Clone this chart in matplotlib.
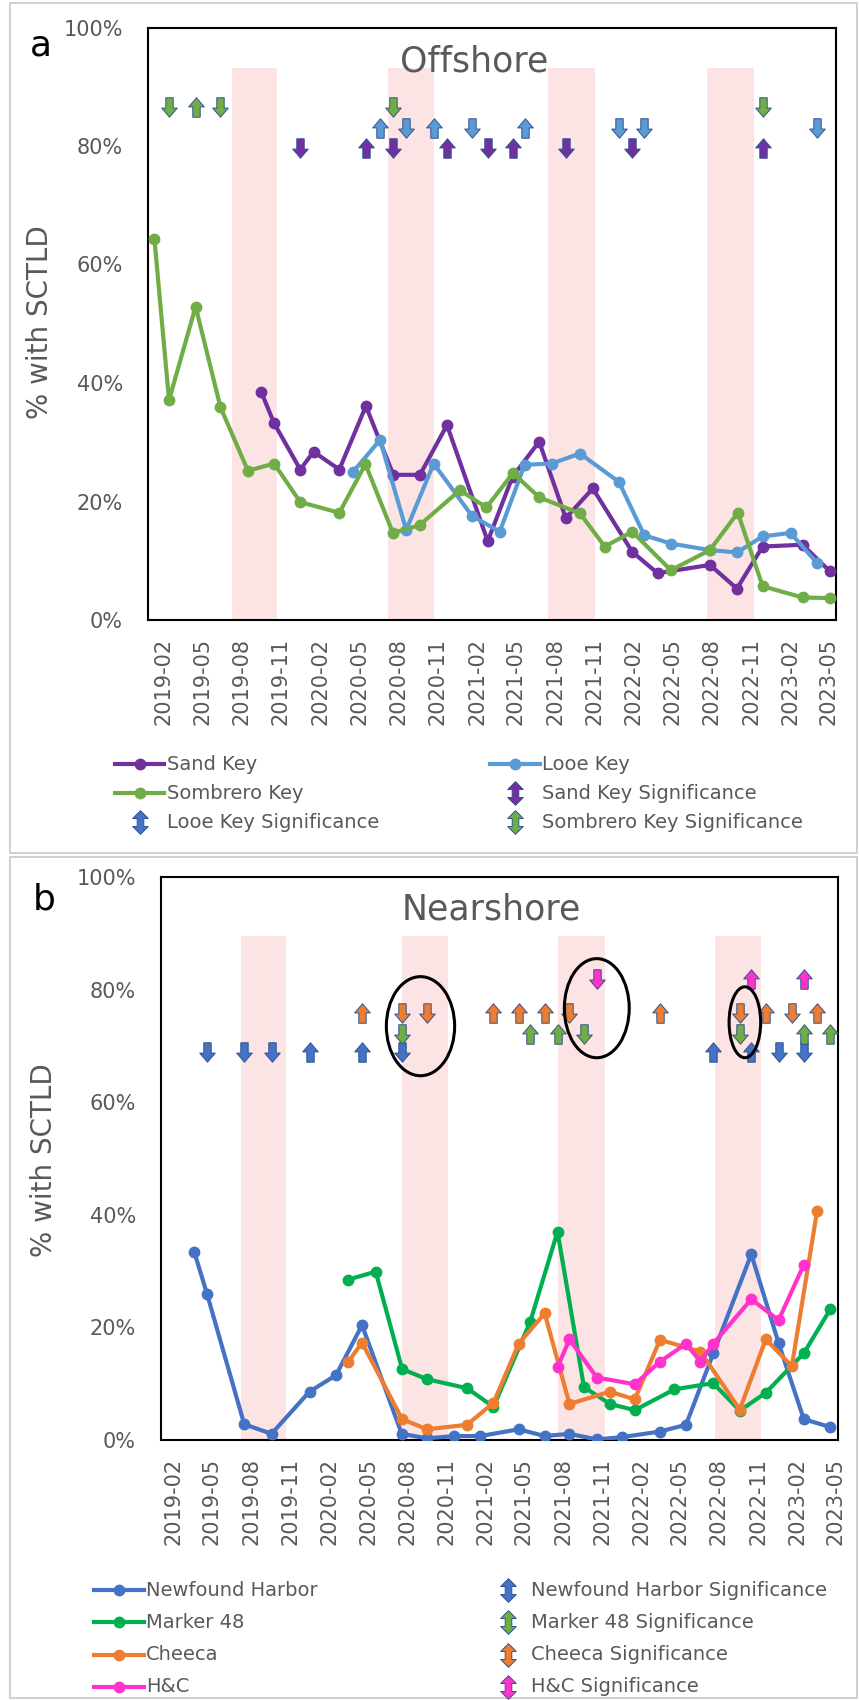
import matplotlib

matplotlib.use("Agg")
import matplotlib.dates as mdates  # noqa: E402
import matplotlib.pyplot as plt  # noqa: E402
import numpy as np  # noqa: E402
from matplotlib.lines import Line2D  # noqa: E402
from matplotlib.patches import Ellipse, Rectangle  # noqa: E402
from matplotlib.path import Path  # noqa: E402

# --- panel a: offshore ------------------------------------------------------ #
sand_dates = ["2019-09-16", "2019-10-16", "2019-12-16", "2020-01-16", "2020-03-16",
              "2020-05-17", "2020-07-20", "2020-09-20", "2020-11-22", "2021-02-25",
              "2021-04-24", "2021-06-25", "2021-08-26", "2021-10-28", "2022-01-28",
              "2022-03-28", "2022-07-28", "2022-09-29", "2022-11-28", "2023-03-01",
              "2023-05-04"]
sand_vals = [38.5, 33.2, 25.4, 28.4, 25.4, 36.1, 24.5, 24.5, 32.9, 13.3, 24.2,
             30.1, 17.2, 22.2, 11.5, 7.9, 9.3, 5.3, 12.4, 12.7, 8.2]

looe_dates = ["2020-04-16", "2020-06-19", "2020-08-19", "2020-10-22", "2021-01-19",
              "2021-03-25", "2021-05-22", "2021-07-24", "2021-09-28", "2021-12-28",
              "2022-02-25", "2022-04-28", "2022-07-28", "2022-09-29", "2022-11-28",
              "2023-02-01", "2023-04-04"]
looe_vals = [24.9, 30.4, 15.2, 26.4, 17.6, 14.9, 26.2, 26.4, 28.1, 23.3, 14.3,
             12.9, 11.8, 11.4, 14.1, 14.7, 9.6]

somb_dates = ["2019-01-10", "2019-02-13", "2019-04-16", "2019-06-13", "2019-08-16",
              "2019-10-16", "2019-12-16", "2020-03-16", "2020-05-16", "2020-07-19",
              "2020-09-19", "2020-12-22", "2021-02-22", "2021-04-25", "2021-06-25",
              "2021-09-28", "2021-11-25", "2022-01-28", "2022-04-28", "2022-07-28",
              "2022-10-01", "2022-11-28", "2023-03-01", "2023-05-04"]
somb_vals = [64.3, 37.1, 52.9, 35.9, 25.2, 26.4, 19.9, 18.1, 26.3, 14.7, 16.0,
             21.9, 19.0, 24.8, 20.7, 18.0, 12.4, 14.9, 8.4, 11.8, 18.1, 5.7, 3.8, 3.7]

sand_sig_dates = ["2019-12-16", "2020-05-17", "2020-07-20", "2020-11-22", "2021-02-25",
                  "2021-04-24", "2021-08-26", "2022-01-28", "2022-11-28"]
sand_sig_dir = ["d", "u", "d", "u", "d", "u", "d", "d", "u"]
looe_sig_dates = ["2020-06-19", "2020-08-19", "2020-10-22", "2021-01-19", "2021-05-22",
                  "2021-12-28", "2022-02-25", "2023-04-04"]
looe_sig_dir = ["u", "d", "u", "d", "u", "d", "d", "d"]
somb_sig_dates = ["2019-02-13", "2019-04-16", "2019-06-13", "2020-07-19", "2022-11-28"]
somb_sig_dir = ["d", "u", "d", "d", "d"]

bands_a = [("2019-07-09", "2019-10-23"), ("2020-07-07", "2020-10-22"),
           ("2021-07-16", "2021-11-01"), ("2022-07-22", "2022-11-07")]

# --- panel b: nearshore ----------------------------------------------------- #
nh_dates = ["2019-03-21", "2019-04-20", "2019-07-16", "2019-09-18", "2019-12-16",
            "2020-02-16", "2020-04-17", "2020-07-19", "2020-09-16", "2020-11-19",
            "2021-01-19", "2021-04-19", "2021-06-19", "2021-08-16", "2021-10-19",
            "2021-12-16", "2022-03-16", "2022-05-16", "2022-07-19", "2022-10-16",
            "2022-12-19", "2023-02-16", "2023-04-19"]
nh_vals = [33.4, 25.9, 2.8, 1.1, 8.6, 11.5, 20.4, 1.1, 0.3, 0.7, 0.7, 1.9, 0.7,
           1.1, 0.1, 0.5, 1.5, 2.7, 15.4, 33.0, 17.2, 3.7, 2.3]

m48_dates = ["2020-03-16", "2020-05-19", "2020-07-20", "2020-09-16", "2020-12-19",
             "2021-02-19", "2021-05-16", "2021-07-19", "2021-09-19", "2021-11-19",
             "2022-01-16", "2022-04-19", "2022-07-19", "2022-09-19", "2022-11-19",
             "2023-02-16", "2023-04-19"]
m48_vals = [28.5, 29.9, 12.6, 10.8, 9.2, 5.9, 21.0, 37.0, 9.4, 6.4, 5.3, 9.0,
            10.1, 5.2, 8.4, 15.4, 23.2]

ch_dates = ["2020-03-16", "2020-04-17", "2020-07-20", "2020-09-16", "2020-12-19",
            "2021-02-19", "2021-04-19", "2021-06-19", "2021-08-16", "2021-11-19",
            "2022-01-16", "2022-03-16", "2022-06-19", "2022-09-19", "2022-11-19",
            "2023-01-19", "2023-03-19"]
ch_vals = [13.9, 17.3, 3.7, 1.9, 2.7, 6.6, 17.1, 22.5, 6.4, 8.6, 7.2, 17.8, 15.7,
           5.4, 17.9, 13.1, 40.6]

hc_dates = ["2021-07-19", "2021-08-16", "2021-10-19", "2022-01-16", "2022-03-16",
            "2022-05-16", "2022-06-19", "2022-07-19", "2022-10-16", "2022-12-19",
            "2023-02-16"]
hc_vals = [12.9, 17.9, 11.1, 9.9, 13.9, 17.1, 13.9, 17.1, 25.0, 21.3, 31.1]

nh_sig_dates = ["2019-04-20", "2019-07-16", "2019-09-18", "2019-12-16", "2020-04-17",
                "2020-07-19", "2022-07-19", "2022-10-16", "2022-12-19", "2023-02-16"]
nh_sig_dir = ["d", "d", "d", "u", "u", "d", "u", "u", "d", "d"]
ch_sig_dates = ["2020-04-17", "2020-07-20", "2020-09-16", "2021-02-19", "2021-04-19",
                "2021-06-19", "2021-08-16", "2022-03-16", "2022-09-19", "2022-11-19",
                "2023-01-19", "2023-03-19"]
ch_sig_dir = ["u", "d", "d", "u", "u", "u", "d", "u", "d", "u", "d", "u"]
m48_sig_dates = ["2020-07-20", "2021-05-16", "2021-07-19", "2021-09-19", "2022-09-19",
                 "2023-02-16", "2023-04-19"]
m48_sig_dir = ["d", "u", "u", "d", "d", "u", "u"]
hc_sig_dates = ["2021-10-19", "2022-10-16", "2023-02-16"]
hc_sig_dir = ["d", "u", "u"]

bands_b = [("2019-07-09", "2019-10-23"), ("2020-07-19", "2020-11-04"),
           ("2021-07-19", "2021-11-07"), ("2022-07-22", "2022-11-07")]

# highlighted groups (centre date, centre %, width in days, height in %)
ellipses_b = [("2020-09-01", 73.5, 160, 17.6), ("2021-10-19", 76.7, 152, 17.6),
              ("2022-10-01", 74.2, 74, 12.6)]

# --- styling ---------------------------------------------------------------- #
W, H = 859, 1700
GRAY = "#595959"
EDGE = "#2F528F"
BAND = "#FCE4E4"
C_SAND, C_LOOE, C_SOMB = "#7030A0", "#5B9BD5", "#70AD47"
C_NH, C_M48, C_CH, C_HC = "#4472C4", "#00B050", "#ED7D31", "#FF33CC"
C_M48_SIG = "#70AD47"
LW, MS = 3.0, 7.5

_c = [Path.MOVETO] + [Path.LINETO] * 6 + [Path.CLOSEPOLY]
UP = Path([(-0.19, -0.5), (0.19, -0.5), (0.19, 0.03), (0.4, 0.03), (0, 0.5),
           (-0.4, 0.03), (-0.19, 0.03), (-0.19, -0.5)], _c)
DOWN = Path(UP.vertices * [1, -1], _c)
BOTH = Path([(0, 0.5), (0.33, 0.17), (0.14, 0.17), (0.14, -0.17), (0.33, -0.17),
             (0, -0.5), (-0.33, -0.17), (-0.14, -0.17), (-0.14, 0.17), (-0.33, 0.17),
             (0, 0.5)], [Path.MOVETO] + [Path.LINETO] * 9 + [Path.CLOSEPOLY])


def fx(px):
    return px / W


def fy(py):
    return 1 - py / H


def d64(lst):
    return np.array(lst, dtype="datetime64[D]")


def series(ax, dates, vals, color):
    ax.plot(d64(dates), vals, color=color, lw=LW, marker="o", ms=MS, zorder=3,
            solid_joinstyle="round")


def sig_arrows(ax, dates, dirs, level, color):
    d = d64(dates)
    for path, key in ((UP, "u"), (DOWN, "d")):
        sel = [i for i, s in enumerate(dirs) if s == key]
        if sel:
            ax.plot(d[sel], [level] * len(sel), ls="none", marker=path, ms=14,
                    mfc=color, mec=EDGE, mew=0.7, clip_on=False, zorder=5)


def setup_axes(ax, xlim, bands, band_top, title, title_x):
    for a, b in bands:
        ax.axvspan(np.datetime64(a), np.datetime64(b), ymax=band_top / 100,
                   color=BAND, lw=0, zorder=0)
    ax.set_xlim(np.datetime64(xlim[0]), np.datetime64(xlim[1]))
    ax.set_ylim(0, 100)
    ax.set_yticks([0, 20, 40, 60, 80, 100])
    ax.set_yticklabels([f"{v}%" for v in range(0, 101, 20)])
    ax.xaxis.set_major_locator(mdates.MonthLocator(bymonth=(2, 5, 8, 11)))
    ax.xaxis.set_major_formatter(mdates.DateFormatter("%Y-%m"))
    ax.tick_params(axis="x", length=0, pad=13, labelsize=15, labelcolor=GRAY,
                   labelrotation=90)
    ax.tick_params(axis="y", length=0, pad=18, labelsize=15, labelcolor=GRAY)
    for sp in ax.spines.values():
        sp.set_color("black")
        sp.set_linewidth(1.5)
    ax.text(title_x, 94.3, title, transform=ax.get_yaxis_transform(), ha="center",
            va="center", fontsize=25, color=GRAY)


def legend_line(fig, x0, x1, y, color, label, tx):
    fig.add_artist(Line2D([fx(x0), fx(x1)], [fy(y)] * 2, transform=fig.transFigure,
                          color=color, lw=LW))
    fig.add_artist(Line2D([fx((x0 + x1) / 2)], [fy(y)], transform=fig.transFigure,
                          marker="o", ms=MS, color=color, ls="none"))
    fig.text(fx(tx), fy(y), label, ha="left", va="center", fontsize=14, color=GRAY)


def legend_icon(fig, xc, y, color, label, tx):
    fig.add_artist(Line2D([fx(xc)], [fy(y)], transform=fig.transFigure, marker=BOTH,
                          ms=17, mfc=color, mec=EDGE, mew=0.7, ls="none"))
    fig.text(fx(tx), fy(y), label, ha="left", va="center", fontsize=14, color=GRAY)


fig = plt.figure(figsize=(W / 100, H / 100), dpi=100)

# panel frames
for y0, y1 in ((3, 853), (857, 1698)):
    fig.add_artist(Rectangle((fx(10), fy(y1)), fx(847), (y1 - y0) / H,
                             transform=fig.transFigure, fill=False, ec="#C8C8C8",
                             lw=1.2))

# --- a ---------------------------------------------------------------------- #
ax1 = fig.add_axes([fx(148), fy(620), 688 / W, 592.5 / H])
setup_axes(ax1, ("2018-12-26", "2023-05-18"), bands_a, 93.2, "Offshore", 0.474)
series(ax1, sand_dates, sand_vals, C_SAND)
series(ax1, looe_dates, looe_vals, C_LOOE)
series(ax1, somb_dates, somb_vals, C_SOMB)
sig_arrows(ax1, somb_sig_dates, somb_sig_dir, 86.6, C_SOMB)
sig_arrows(ax1, looe_sig_dates, looe_sig_dir, 83.0, C_LOOE)
sig_arrows(ax1, sand_sig_dates, sand_sig_dir, 79.6, C_SAND)

fig.text(fx(41), fy(46), "a", ha="center", va="center", fontsize=26, color="black")
fig.text(fx(40), fy(322), "% with SCTLD", rotation=90, ha="center", va="center",
         fontsize=20, color=GRAY)

legend_line(fig, 115, 164, 764, C_SAND, "Sand Key", 167)
legend_line(fig, 490, 540, 764, C_LOOE, "Looe Key", 542)
legend_line(fig, 115, 164, 793, C_SOMB, "Sombrero Key", 167)
legend_icon(fig, 515, 793, C_SAND, "Sand Key Significance", 542)
legend_icon(fig, 140, 822, C_NH, "Looe Key Significance", 167)
legend_icon(fig, 515, 822, C_SOMB, "Sombrero Key Significance", 542)

# --- b ---------------------------------------------------------------------- #
ax2 = fig.add_axes([fx(161), fy(1440), 676.5 / W, 563 / H])
setup_axes(ax2, ("2019-01-02", "2023-05-06"), bands_b, 89.5, "Nearshore", 0.489)
series(ax2, nh_dates, nh_vals, C_NH)
series(ax2, m48_dates, m48_vals, C_M48)
series(ax2, ch_dates, ch_vals, C_CH)
series(ax2, hc_dates, hc_vals, C_HC)
sig_arrows(ax2, nh_sig_dates, nh_sig_dir, 69.0, C_NH)
sig_arrows(ax2, m48_sig_dates, m48_sig_dir, 72.2, C_M48_SIG)
sig_arrows(ax2, ch_sig_dates, ch_sig_dir, 75.9, C_CH)
sig_arrows(ax2, hc_sig_dates, hc_sig_dir, 81.9, C_HC)
for c, v, wd, ht in ellipses_b:
    ax2.add_patch(Ellipse((mdates.date2num(np.datetime64(c)), v), wd, ht, fill=False,
                          ec="black", lw=2.2, zorder=6, clip_on=False))

fig.text(fx(44), fy(900), "b", ha="center", va="center", fontsize=26, color="black")
fig.text(fx(44), fy(1160), "% with SCTLD", rotation=90, ha="center", va="center",
         fontsize=20, color=GRAY)

legend_line(fig, 94, 144, 1590, C_NH, "Newfound Harbor", 146)
legend_line(fig, 94, 144, 1622, C_M48, "Marker 48", 146)
legend_line(fig, 94, 144, 1655, C_CH, "Cheeca", 146)
legend_line(fig, 94, 144, 1687, C_HC, "H&C", 146)
legend_icon(fig, 508, 1590, C_NH, "Newfound Harbor Significance", 531)
legend_icon(fig, 508, 1622, C_M48_SIG, "Marker 48 Significance", 531)
legend_icon(fig, 508, 1655, C_CH, "Cheeca Significance", 531)
legend_icon(fig, 508, 1687, C_HC, "H&C Significance", 531)

fig.savefig("out.png", dpi=100)
